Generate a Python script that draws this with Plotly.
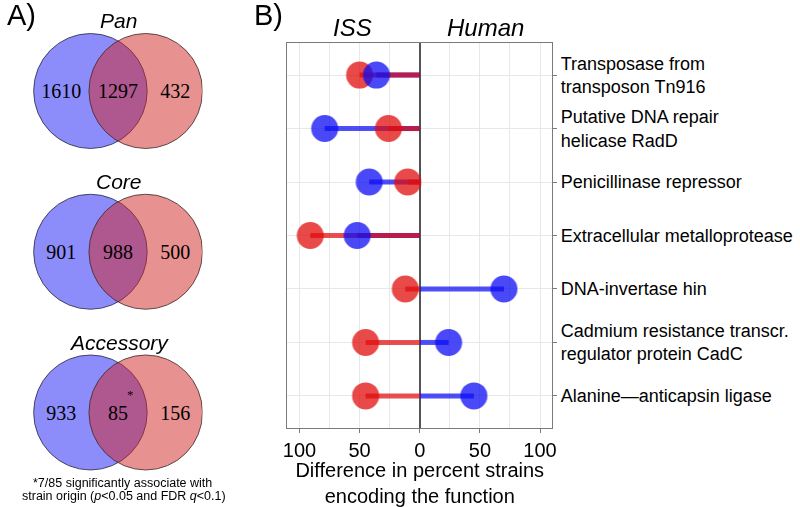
import plotly.graph_objects as go

# ---------------- data ----------------
venn_titles = ["Pan", "Core", "Accessory"]
venn_blue_only = [1610, 901, 933]
venn_shared = [1297, 988, 85]
venn_red_only = [432, 500, 156]
venn_marks = ["", "", "*"]

functions = [
    "Transposase from<br>transposon Tn916",
    "Putative DNA repair<br>helicase RadD",
    "Penicillinase repressor",
    "Extracellular metalloprotease",
    "DNA-invertase hin",
    "Cadmium resistance transcr.<br>regulator protein CadC",
    "Alanine\u2014anticapsin ligase",
]
# signed difference in percent strains (negative = ISS side, positive = Human side)
diff_red = [-50, -26, -10, -91, -12, -45, -45]
diff_blue = [-36, -79, -42, -52, 70, 24, 45]

x_tickvals = [-100, -50, 0, 50, 100]
x_ticktext = ["100", "50", "0", "50", "100"]

# ---------------- styling ----------------
W, H = 800, 507
SANS = "Liberation Sans, Arial, Helvetica, sans-serif"
SERIF = "Liberation Serif, Times New Roman, serif"
RED = "rgb(225,12,12)"
BLUE = "rgb(12,12,245)"


def px(x):
    return x / W


def py(y):
    return 1 - y / H


fig = go.Figure()

rows = list(range(1, len(functions) + 1))

# segments from 0 to each value
def seg(vals):
    xs, ys = [], []
    for v, r in zip(vals, rows):
        xs += [v, 0, None]
        ys += [r, r, None]
    return xs, ys

bx, by = seg(diff_blue)
rx, ry = seg(diff_red)
fig.add_trace(go.Scatter(x=bx, y=by, mode="lines", line=dict(color=BLUE, width=5),
                         opacity=0.72, hoverinfo="skip", showlegend=False))
fig.add_trace(go.Scatter(x=rx, y=ry, mode="lines", line=dict(color=RED, width=5),
                         opacity=0.72, hoverinfo="skip", showlegend=False))
fig.add_trace(go.Scatter(x=diff_red, y=rows, mode="markers",
                         marker=dict(color=RED, size=27, line=dict(width=0)),
                         opacity=0.75, showlegend=False))
fig.add_trace(go.Scatter(x=diff_blue, y=rows, mode="markers",
                         marker=dict(color=BLUE, size=27, line=dict(width=0)),
                         opacity=0.75, showlegend=False))

# ---------------- Venn diagrams (panel A) ----------------
R = 57.5
blue_cx, red_cx = 86.5, 142.5
venn_cy0, venn_dy = 91, 160.75
text_x, text_y, text_s = [], [], []
for i in range(len(venn_titles)):
    cy = venn_cy0 + i * venn_dy
    fig.add_shape(type="circle", xref="x2", yref="y2",
                  x0=blue_cx - R, x1=blue_cx + R, y0=cy - R, y1=cy + R,
                  fillcolor="rgba(25,25,245,0.5)", line=dict(color="rgba(40,40,60,1)", width=0.8),
                  layer="below")
    fig.add_shape(type="circle", xref="x2", yref="y2",
                  x0=red_cx - R, x1=red_cx + R, y0=cy - R, y1=cy + R,
                  fillcolor="rgba(210,35,35,0.5)", line=dict(color="rgba(60,40,40,1)", width=0.8),
                  layer="below")
    text_x += [57, (blue_cx + red_cx) / 2, 172.5]
    text_y += [cy + 2, cy + 2, cy + 2]
    text_s += [str(venn_blue_only[i]), str(venn_shared[i]), str(venn_red_only[i])]
    fig.add_annotation(text="<i>%s</i>" % venn_titles[i], x=px(115), y=py(venn_cy0 - 70 + i * venn_dy),
                       xref="paper", yref="paper", showarrow=False,
                       font=dict(family=SANS, size=21, color="black"), xanchor="center", yanchor="middle")
    if venn_marks[i]:
        fig.add_annotation(text=venn_marks[i], x=127, y=cy - 18, xref="x2", yref="y2",
                           showarrow=False, font=dict(family=SERIF, size=13, color="black"),
                           xanchor="center", yanchor="middle")

fig.add_trace(go.Scatter(x=text_x, y=text_y, text=text_s, mode="text", xaxis="x2", yaxis="y2",
                         textfont=dict(family=SERIF, size=20, color="black"),
                         hoverinfo="skip", showlegend=False))

# ---------------- annotations ----------------
ann = [
    dict(text="A)", x=px(0), y=py(15), xanchor="left", size=29),
    dict(text="B)", x=px(250), y=py(15), xanchor="left", size=29),
    dict(text="<i>ISS</i>", x=px(352), y=py(27), xanchor="center", size=24),
    dict(text="<i>Human</i>", x=px(487), y=py(27), xanchor="center", size=24),
    dict(text="*7/85 significantly associate with", x=px(118.5), y=py(483), xanchor="center", size=12.5),
    dict(text="strain origin (<i>p</i><0.05 and FDR <i>q</i><0.1)", x=px(120), y=py(496),
         xanchor="center", size=12.5),
]
for a in ann:
    fig.add_annotation(text=a["text"], x=a["x"], y=a["y"], xref="paper", yref="paper",
                       showarrow=False, xanchor=a["xanchor"], yanchor="middle",
                       font=dict(family=SANS, size=a["size"], color="black"))

GRID = "#E8E8E8"
FRAME = "#7a7a7a"
fig.update_layout(
    width=W, height=H, autosize=False,
    margin=dict(l=0, r=0, t=0, b=0),
    paper_bgcolor="white", plot_bgcolor="white",
    font=dict(family=SANS, color="black"),
    xaxis=dict(domain=[px(286), px(554)], range=[-110, 110],
               tickvals=x_tickvals, ticktext=x_ticktext,
               ticks="outside", ticklen=4, tickcolor=FRAME,
               tickfont=dict(size=20, family=SANS, color="black"),
               showgrid=True, gridcolor=GRID, gridwidth=1,
               minor=dict(tickvals=[-75, -25, 25, 75], showgrid=True, gridcolor=GRID, gridwidth=1),
               showline=True, linecolor=FRAME, linewidth=1, mirror=True,
               zeroline=True, zerolinecolor="#555555", zerolinewidth=1.6,
               title=dict(text="Difference in percent strains<br>encoding the function",
                          font=dict(size=20, family=SANS, color="black"), standoff=6),
               fixedrange=True),
    yaxis=dict(domain=[py(428), py(43)], range=[7.6, 0.4],
               tickvals=rows, ticktext=functions, side="right",
               ticks="outside", ticklen=4, tickcolor=FRAME,
               tickfont=dict(size=18, family=SANS, color="black"),
               showgrid=True, gridcolor=GRID, gridwidth=1,
               showline=True, linecolor=FRAME, linewidth=1, mirror=True,
               zeroline=False, fixedrange=True),
    xaxis2=dict(domain=[0, px(200)], range=[0, 200], visible=False, anchor="y2", fixedrange=True),
    yaxis2=dict(domain=[0, 1], range=[H, 0], visible=False, anchor="x2", fixedrange=True),
)

fig.write_html("out.html", config={"displayModeBar": False},
               post_script="document.body.style.margin='0';document.body.style.overflow='hidden';")
